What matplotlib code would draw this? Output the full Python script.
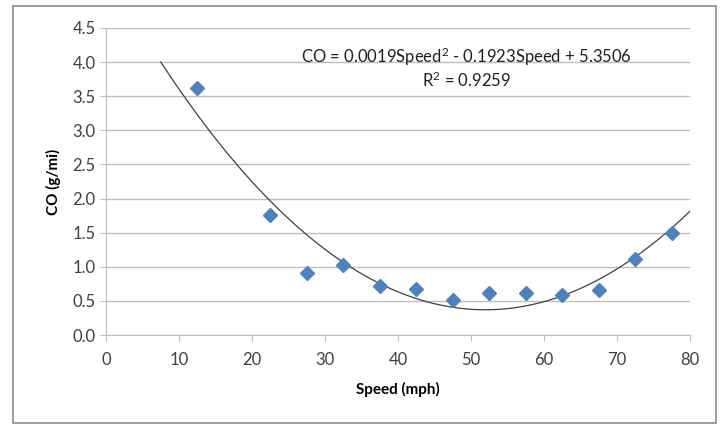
import numpy as np
import matplotlib.pyplot as plt
from matplotlib.patches import Rectangle

plt.rcParams['font.family'] = ['Lato', 'DejaVu Sans']
plt.rcParams['mathtext.default'] = 'regular'

speed = [12.5, 22.5, 27.5, 32.5, 37.5, 42.5, 47.5, 52.5, 57.5, 62.5, 67.5, 72.5, 77.5]
co = [3.62, 1.76, 0.91, 1.03, 0.72, 0.68, 0.52, 0.61, 0.62, 0.58, 0.66, 1.11, 1.50]
xticks = [0, 10, 20, 30, 40, 50, 60, 70, 80]
yticks = [0.0, 0.5, 1.0, 1.5, 2.0, 2.5, 3.0, 3.5, 4.0, 4.5]
equation = 'CO = 0.0019Speed$^2$ - 0.1923Speed + 5.3506'
r2_text = 'R$^2$ = 0.9259'

fig = plt.figure(figsize=(7.26, 4.25), dpi=100)
ax = fig.add_axes([106 / 726, 90 / 425, 584 / 726, 307 / 425])

# quadratic trendline fitted on the points
coef = np.polyfit(speed, co, 2)
xs = np.linspace(7.5, 80, 200)
ax.plot(xs, np.polyval(coef, xs), color='#404040', lw=0.9, zorder=2)
ax.plot(speed, co, linestyle='none', marker='D', markersize=7.5,
        color='#4F81BD', zorder=3)

ax.set_xlim(0, 80)
ax.set_ylim(0, 4.5)
ax.set_xticks(xticks)
ax.set_yticks(yticks)
ax.set_yticklabels([f'{v:.1f}' for v in yticks])
ax.grid(axis='y', color='#BFBFBF', lw=1)
ax.set_axisbelow(True)
for s in ['top', 'right']:
    ax.spines[s].set_visible(False)
for s in ['left', 'bottom']:
    ax.spines[s].set_color('#BFBFBF')
ax.tick_params(colors='#BFBFBF', labelcolor='#404040', labelsize=12, length=4)
ax.tick_params(axis='x', pad=8)
ax.set_xlabel('Speed (mph)', fontsize=11, fontweight='bold', labelpad=10)
ax.set_ylabel('CO (g/mi)', fontsize=11, fontweight='bold', labelpad=8)

ax.text(0.617, 0.905, equation, transform=ax.transAxes, ha='center',
        va='center', fontsize=12, color='#202020')
ax.text(0.617, 0.83, r2_text, transform=ax.transAxes, ha='center',
        va='center', fontsize=12, color='#202020')

fig.patches.append(Rectangle((13 / 726, 2 / 425), 703 / 726, 417 / 425,
                             transform=fig.transFigure, fill=False,
                             edgecolor='#8C8C8C', lw=1.2))

fig.savefig('out.png', dpi=100)
